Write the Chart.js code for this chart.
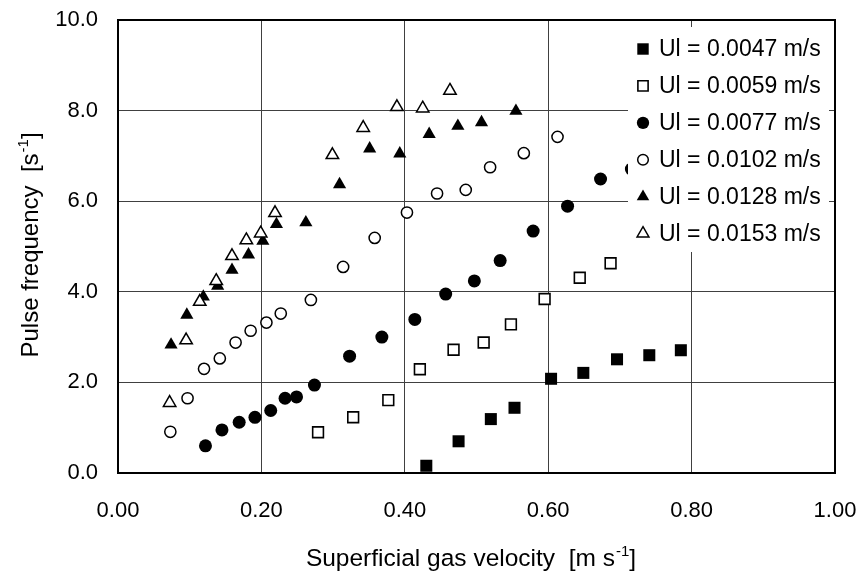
<!DOCTYPE html>
<html>
<head>
<meta charset="utf-8">
<script src="https://cdn.jsdelivr.net/npm/chart.js@4.4.1/dist/chart.umd.min.js"></script>
<style>
  html, body { margin: 0; padding: 0; background: #fff; }
  #wrap { width: 862px; height: 573px; }
</style>
</head>
<body>
<div id="wrap"><canvas id="c" width="862" height="573"></canvas></div>
<script>
// ---- data ----
const seriesLabels = ['Ul = 0.0047 m/s', 'Ul = 0.0059 m/s', 'Ul = 0.0077 m/s', 'Ul = 0.0102 m/s', 'Ul = 0.0128 m/s', 'Ul = 0.0153 m/s'];

const x0047 = [0.430, 0.475, 0.520, 0.553, 0.604, 0.649, 0.696, 0.741, 0.785];
const y0047 = [0.16, 0.70, 1.19, 1.44, 2.08, 2.21, 2.51, 2.60, 2.71];

const x0059 = [0.279, 0.328, 0.377, 0.421, 0.468, 0.510, 0.548, 0.595, 0.644, 0.687];
const y0059 = [0.90, 1.23, 1.61, 2.29, 2.72, 2.88, 3.28, 3.84, 4.31, 4.63];

const x0077 = [0.122, 0.145, 0.169, 0.191, 0.213, 0.233, 0.249, 0.274, 0.323, 0.368, 0.414, 0.457, 0.497, 0.533, 0.579, 0.627, 0.673, 0.716];
const y0077 = [0.60, 0.95, 1.12, 1.23, 1.38, 1.65, 1.68, 1.94, 2.58, 3.00, 3.39, 3.95, 4.24, 4.69, 5.34, 5.89, 6.49, 6.71];

const x0102 = [0.073, 0.097, 0.120, 0.142, 0.164, 0.185, 0.207, 0.227, 0.269, 0.314, 0.358, 0.403, 0.445, 0.485, 0.519, 0.566, 0.613];
const y0102 = [0.91, 1.65, 2.30, 2.53, 2.88, 3.14, 3.32, 3.52, 3.82, 4.55, 5.19, 5.75, 6.17, 6.25, 6.75, 7.06, 7.42];

const x0128 = [0.074, 0.096, 0.119, 0.139, 0.159, 0.182, 0.202, 0.221, 0.262, 0.309, 0.351, 0.393, 0.434, 0.474, 0.507, 0.555];
const y0128 = [2.83, 3.49, 3.89, 4.13, 4.48, 4.82, 5.12, 5.49, 5.53, 6.37, 7.16, 7.05, 7.48, 7.66, 7.74, 7.99];

const x0153 = [0.072, 0.095, 0.114, 0.137, 0.159, 0.179, 0.199, 0.219, 0.299, 0.342, 0.389, 0.425, 0.463];
const y0153 = [1.55, 2.93, 3.78, 4.24, 4.79, 5.14, 5.29, 5.74, 7.02, 7.62, 8.08, 8.05, 8.44];

const xTicks = ['0.00', '0.20', '0.40', '0.60', '0.80', '1.00'];
const yTicks = ['0.0', '2.0', '4.0', '6.0', '8.0', '10.0'];

// ---- styles ----
const FONT = '"Liberation Sans", Arial, sans-serif';
const pts = (xs, ys) => xs.map((x, i) => ({ x: x, y: ys[i] }));
const styles = [
  { pointStyle: 'rect', pointRadius: 8.5, pointBackgroundColor: '#000', pointBorderColor: '#000', pointBorderWidth: 0 },
  { pointStyle: 'rect', pointRadius: 7.6, pointBackgroundColor: '#fff', pointBorderColor: '#000', pointBorderWidth: 1.6 },
  { pointStyle: 'circle', pointRadius: 6.5, pointBackgroundColor: '#000', pointBorderColor: '#000', pointBorderWidth: 0 },
  { pointStyle: 'circle', pointRadius: 5.6, pointBackgroundColor: '#fff', pointBorderColor: '#000', pointBorderWidth: 1.5 },
  { pointStyle: 'triangle', pointRadius: 7.6, pointBackgroundColor: '#000', pointBorderColor: '#000', pointBorderWidth: 0 },
  { pointStyle: 'triangle', pointRadius: 7.2, pointBackgroundColor: '#fff', pointBorderColor: '#000', pointBorderWidth: 1.5 }
];
const dataSets = [pts(x0047, y0047), pts(x0059, y0059), pts(x0077, y0077), pts(x0102, y0102), pts(x0128, y0128), pts(x0153, y0153)];

const datasets = dataSets.map((d, i) => Object.assign({
  label: seriesLabels[i],
  data: d,
  showLine: false,
  order: 6 - i,
  pointHoverRadius: styles[i].pointRadius
}, styles[i]));

// frame + legend + axis titles
const customPlugin = {
  id: 'custom',
  beforeDatasetsDraw(chart) {
    const { ctx, chartArea: a } = chart;
    ctx.save();
    ctx.strokeStyle = '#000';
    ctx.lineWidth = 2;
    ctx.strokeRect(a.left, a.top, a.right - a.left, a.bottom - a.top);
    ctx.restore();
  },
  afterDatasetsDraw(chart) {
    const { ctx, chartArea: a } = chart;
    ctx.save();
    // legend box (white, no border)
    ctx.fillStyle = '#fff';
    ctx.fillRect(628, 27, 201, 225);
    ctx.font = '23px ' + FONT;
    ctx.textBaseline = 'middle';
    ctx.textAlign = 'left';
    for (let i = 0; i < seriesLabels.length; i++) {
      const yy = 49 + i * 36.9;
      const s = styles[i];
      const opts = {
        pointStyle: s.pointStyle,
        radius: s.pointRadius * 0.95,
        borderWidth: s.pointBorderWidth,
        rotation: 0
      };
      ctx.fillStyle = s.pointBackgroundColor;
      ctx.strokeStyle = s.pointBorderColor;
      ctx.lineWidth = s.pointBorderWidth;
      if (Chart.helpers && Chart.helpers.drawPoint) {
        Chart.helpers.drawPoint(ctx, opts, 643, yy);
      }
      ctx.fillStyle = '#000';
      ctx.fillText(seriesLabels[i], 659, yy + 1);
    }
    ctx.restore();
  },
  afterDraw(chart) {
    const { ctx, chartArea: a } = chart;
    ctx.save();
    ctx.fillStyle = '#000';
    // x title
    const main = 'Superficial gas velocity  [m s';
    const sup = '-1';
    const end = ']';
    const XF = '24.5px ' + FONT;
    const SF = '15px ' + FONT;
    ctx.font = XF;
    const w1 = ctx.measureText(main).width;
    const w3 = ctx.measureText(end).width;
    ctx.font = SF;
    const w2 = ctx.measureText(sup).width;
    const total = w1 + w2 + w3;
    const cx = (a.left + a.right) / 2 - 6;
    let x = cx - total / 2;
    const base = 566;
    ctx.textBaseline = 'alphabetic';
    ctx.textAlign = 'left';
    ctx.font = XF;
    ctx.fillText(main, x, base);
    ctx.font = SF;
    ctx.fillText(sup, x + w1 + 1, base - 10);
    ctx.font = XF;
    ctx.fillText(end, x + w1 + w2 + 1, base);

    // y title (rotated)
    const ymain = 'Pulse frequency  [s';
    const YF = '24px ' + FONT;
    ctx.font = YF;
    const v1 = ctx.measureText(ymain).width;
    const v3 = ctx.measureText(end).width;
    ctx.font = SF;
    const v2 = ctx.measureText(sup).width;
    const vt = v1 + v2 + v3;
    const cy = (a.top + a.bottom) / 2 - 1;
    ctx.translate(38, cy);
    ctx.rotate(-Math.PI / 2);
    let sx = -vt / 2;
    ctx.font = YF;
    ctx.fillText(ymain, sx, 0);
    ctx.font = SF;
    ctx.fillText(sup, sx + v1 + 1, -10);
    ctx.font = YF;
    ctx.fillText(end, sx + v1 + v2 + 1, 0);
    ctx.restore();
  }
};

new Chart(document.getElementById('c'), {
  type: 'scatter',
  data: { datasets: datasets },
  options: {
    responsive: false,
    animation: false,
    devicePixelRatio: 1,
    layout: { padding: { top: 20, right: 27, left: 0, bottom: 0 } },
    plugins: {
      legend: { display: false },
      tooltip: { enabled: false }
    },
    scales: {
      x: {
        type: 'linear',
        min: 0, max: 1,
        afterFit(s) { s.height = 100; s.paddingLeft = 0; s.paddingRight = 0; },
        afterBuildTicks(s) { s.ticks = xTicks.map(t => ({ value: parseFloat(t) })); },
        ticks: {
          callback: (v, i) => xTicks[i],
          font: { family: FONT, size: 22 },
          color: '#000',
          padding: 25,
          maxRotation: 0,
          autoSkip: false
        },
        grid: { color: '#404040', lineWidth: 1, drawTicks: false },
        border: { display: true, color: '#000', width: 2 }
      },
      y: {
        type: 'linear',
        min: 0, max: 10,
        afterFit(s) { s.width = 118; s.paddingTop = 0; s.paddingBottom = 0; },
        afterBuildTicks(s) { s.ticks = yTicks.map(t => ({ value: parseFloat(t) })); },
        ticks: {
          callback: (v, i) => yTicks[i],
          font: { family: FONT, size: 22 },
          color: '#000',
          padding: 20,
          autoSkip: false
        },
        grid: { color: '#404040', lineWidth: 1, drawTicks: false },
        border: { display: true, color: '#000', width: 2 }
      }
    }
  },
  plugins: [customPlugin]
});
</script>
</body>
</html>
